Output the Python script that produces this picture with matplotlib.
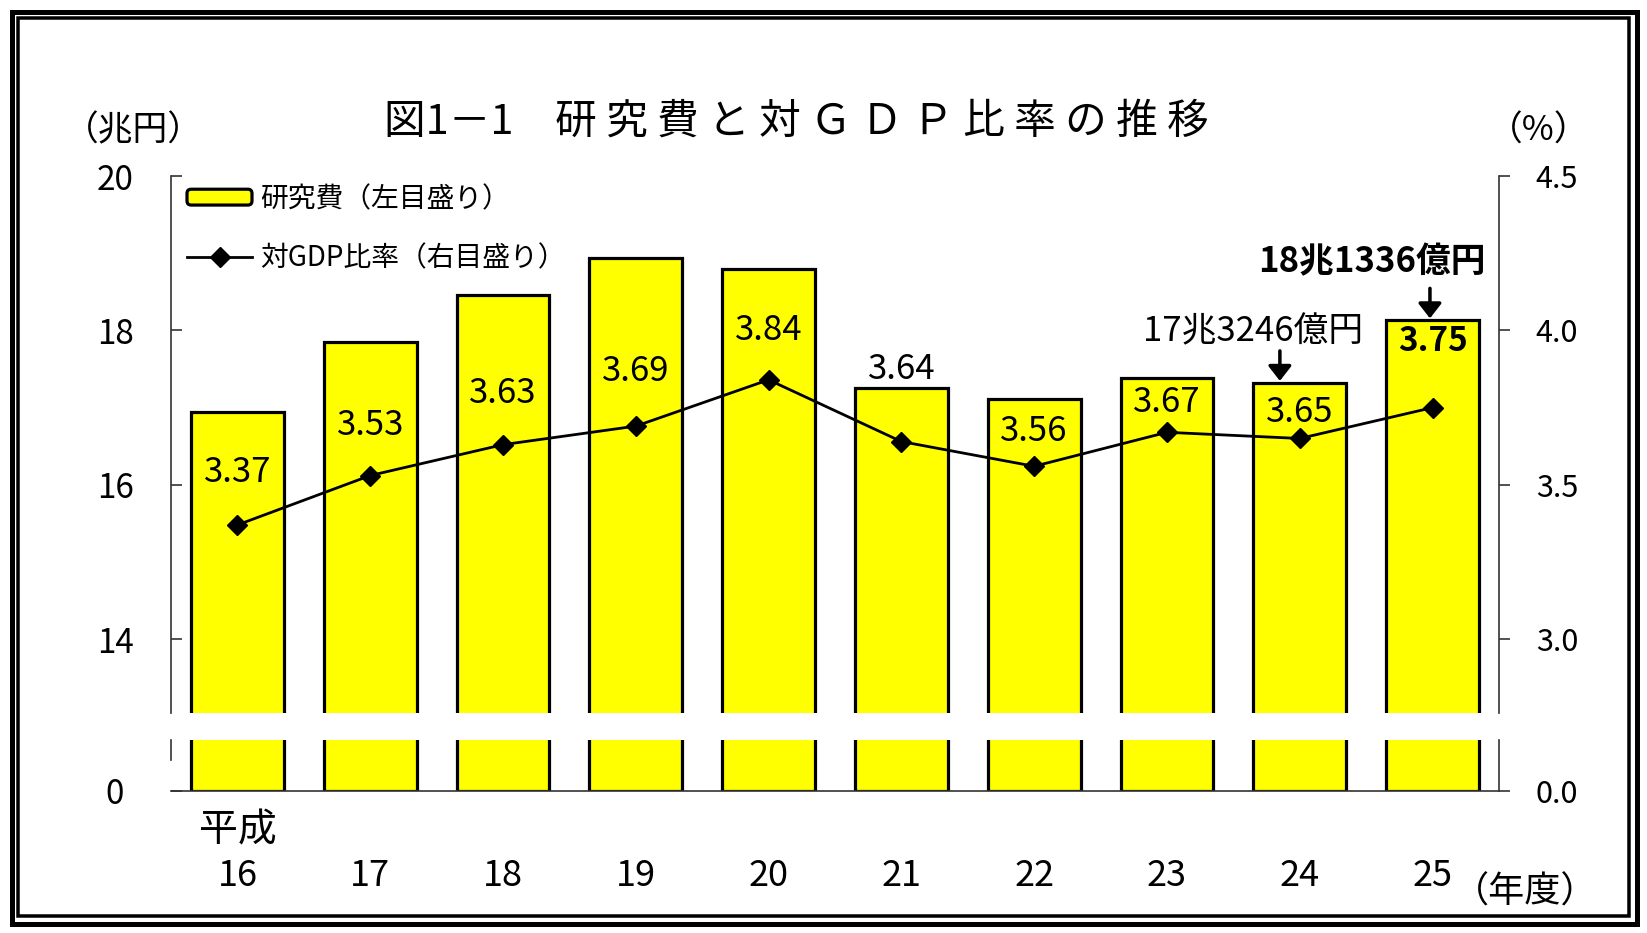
import numpy as np
import matplotlib.pyplot as plt
import matplotlib.patches as mpatches
from matplotlib.lines import Line2D
from matplotlib.legend_handler import HandlerPatch

plt.rcParams['font.family'] = ['Noto Sans CJK JP', 'DejaVu Sans']

# データ（平成16〜25年度）
nendo = ['16', '17', '18', '19', '20', '21', '22', '23', '24', '25']
kenkyuhi = [16.94, 17.85, 18.46, 18.94, 18.80, 17.25, 17.11, 17.38, 17.32, 18.13]  # 兆円
gdp_hiritsu = [3.37, 3.53, 3.63, 3.69, 3.84, 3.64, 3.56, 3.67, 3.65, 3.75]  # %
kingaku_label = {8: '17兆3246億円', 9: '18兆1336億円'}

# ラベルの位置（点からの高さ, px）
label_dy = [52, 50, 51, 55, 49, 72, 35, 30, 26, 66]

W, H = 1647, 933
PT = 0.72  # px -> pt (dpi=100)
YELLOW = '#FFFF00'

fig = plt.figure(figsize=(W / 100, H / 100), dpi=100)

def fx(px):
    return px / W

def fy(py):
    return 1 - py / H

# 二重の枠
fig.patches.append(mpatches.Rectangle((fx(11.5), fy(923.5)), fx(1636.5) - fx(11.5), fy(11.5) - fy(923.5),
                                      transform=fig.transFigure, fill=False, lw=5 * PT, ec='black'))
fig.patches.append(mpatches.Rectangle((fx(18), fy(916)), fx(1629) - fx(18), fy(18) - fy(916),
                                      transform=fig.transFigure, fill=False, lw=3.5 * PT, ec='black'))

x = np.arange(len(nendo))
scale = 77.2  # px / 兆円
left, right = 171, 1499
ax_top = fig.add_axes([fx(left), fy(713), fx(right) - fx(left), fy(176) - fy(713)])
ax_bot = fig.add_axes([fx(left), fy(791), fx(right) - fx(left), fy(740) - fy(791)])

top_low = 20 - (713 - 176) / scale
bot_high = (791 - 740) / scale

for ax in (ax_top, ax_bot):
    ax.bar(x, kenkyuhi, width=0.7, color=YELLOW, edgecolor='black', linewidth=2.3)
    ax.set_xlim(-0.5, len(nendo) - 0.5)
    ax.set_facecolor('none')
    for s in ('top', 'right'):
        ax.spines[s].set_visible(False)
    ax.spines['left'].set_linewidth(1.2)
    ax.spines['left'].set_color('#333333')

ax_top.set_ylim(top_low, 20)
ax_bot.set_ylim(0, bot_high)
ax_top.spines['bottom'].set_visible(False)
ax_top.set_xticks([])
ax_top.set_yticks([14, 16, 18, 20])
ax_bot.set_yticks([0])
ax_bot.spines['left'].set_bounds((791 - 760) / scale, bot_high)
ax_bot.spines['bottom'].set_linewidth(1.2)
ax_bot.spines['bottom'].set_color('#333333')
ax_bot.set_xticks(x)
ax_bot.set_xticklabels(nendo, fontsize=26)
ax_bot.tick_params(axis='x', length=0, pad=48)

for ax in (ax_top, ax_bot):
    ax.tick_params(axis='y', direction='in', length=11 * PT, width=1.2, color='#333333',
                   labelsize=24, pad=56 * PT)
    for lab in ax.get_yticklabels():
        lab.set_horizontalalignment('center')

# 右目盛り
r_top = ax_top.twinx()
r_bot = ax_bot.twinx()
r_top.set_ylim(3 + (top_low - 14) / 4, 4.5)
r_bot.set_ylim(0, bot_high / 4)
r_top.set_yticks([3.0, 3.5, 4.0, 4.5])
r_top.set_yticklabels(['3.0', '3.5', '4.0', '4.5'])
r_bot.set_yticks([0.0])
r_bot.set_yticklabels(['0.0'])
for ax in (r_top, r_bot):
    for s in ('top', 'left', 'bottom'):
        ax.spines[s].set_visible(False)
    ax.spines['right'].set_linewidth(1.2)
    ax.spines['right'].set_color('#333333')
    ax.tick_params(axis='y', direction='out', length=11 * PT, width=1.2, color='#333333',
                   labelsize=22, pad=47 * PT)
    for lab in ax.get_yticklabels():
        lab.set_horizontalalignment('center')

# 対GDP比率
r_top.plot(x, gdp_hiritsu, color='black', lw=2.0, marker='D', markersize=10,
           markerfacecolor='black', markeredgecolor='black', zorder=5)

for i, v in enumerate(gdp_hiritsu):
    bold = 'bold' if i == len(gdp_hiritsu) - 1 else 'normal'
    r_top.annotate(f'{v:.2f}', xy=(x[i], v), xytext=(0, label_dy[i] * PT), textcoords='offset points',
                   ha='center', va='center', fontsize=25 if bold == 'normal' else 24, fontweight=bold)

# 研究費の金額と矢印
arrow_dx = {8: -0.15, 9: -0.02}
text_off = {8: (-47, 51), 9: (-61, 59)}
for i, txt in kingaku_label.items():
    bold = 'bold' if i == 9 else 'normal'
    ax_top.annotate('', xy=(x[i] + arrow_dx[i], kenkyuhi[i] + 2 / scale),
                    xytext=(0, 30 * PT), textcoords='offset points',
                    arrowprops=dict(arrowstyle='-|>,head_length=0.45,head_width=0.35',
                                    lw=3.5 * PT, color='black', shrinkA=0, shrinkB=0,
                                    mutation_scale=20), annotation_clip=False)
    dx, dy = text_off[i]
    ax_top.annotate(txt, xy=(x[i], kenkyuhi[i]), xytext=(dx * PT, dy * PT), textcoords='offset points',
                    ha='center', va='center', fontsize=25, fontweight=bold, annotation_clip=False)


# 凡例
def round_patch(legend, orig_handle, xdescent, ydescent, width, height, fontsize):
    return mpatches.FancyBboxPatch((-xdescent, -ydescent), width, height,
                                   boxstyle='round,pad=0,rounding_size=3')


h_bar = mpatches.Patch(facecolor=YELLOW, edgecolor='black', linewidth=2.3)
h_line = Line2D([], [], color='black', lw=2.0, marker='D', markersize=10)
leg = r_top.legend([h_bar, h_line], ['研究費（左目盛り）', '対GDP比率（右目盛り）'],
                   loc='upper left', bbox_to_anchor=(fx(187), fy(184)), bbox_transform=fig.transFigure,
                   frameon=False, fontsize=20, borderpad=0, borderaxespad=0,
                   handlelength=2.34, handleheight=0.5, handletextpad=0.28, labelspacing=1.05,
                   handler_map={mpatches.Patch: HandlerPatch(patch_func=round_patch)})

# タイトル・単位
fig.text(fx(796), fy(122), '図1－1　研 究 費 と 対 Ｇ Ｄ Ｐ 比 率 の 推 移',
         ha='center', va='center', fontsize=30)
fig.text(fx(133), fy(131), '（兆円）', ha='center', va='center', fontsize=25)
fig.text(fx(1539), fy(131), '（%）', ha='center', va='center', fontsize=25)
fig.text(fx(1525), fy(893), '（年度）', ha='center', va='center', fontsize=26)
ax_bot.annotate('平成', xy=(x[0], 0), xycoords='data', xytext=(0, -39 * PT), textcoords='offset points',
                ha='center', va='center', fontsize=28, annotation_clip=False)

plt.savefig('out.png', dpi=100, facecolor='white')
